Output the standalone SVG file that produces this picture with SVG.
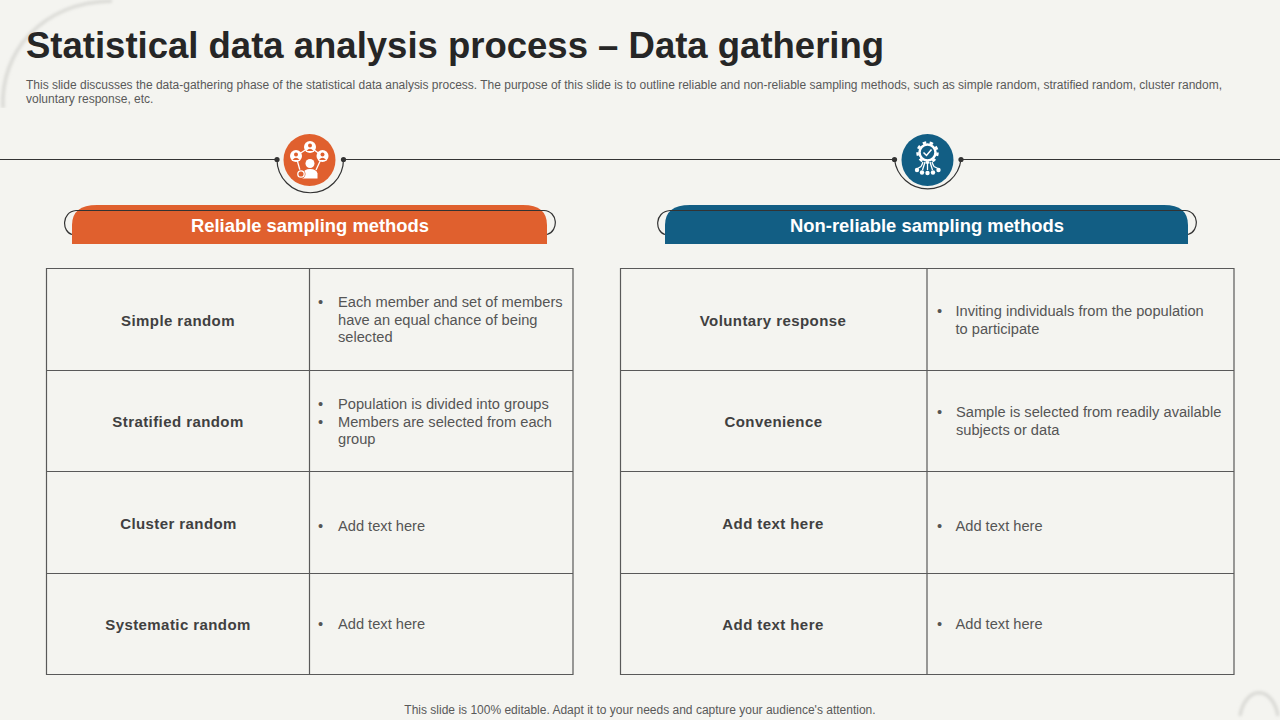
<svg xmlns="http://www.w3.org/2000/svg" width="1280" height="720" viewBox="0 0 1280 720">
<style>
text{font-family:"Liberation Sans",Arial,sans-serif}
.h{font-size:15px;font-weight:700;fill:#404040;text-anchor:middle;letter-spacing:.42px}
.b{font-size:14.65px;fill:#555}
.bh{font-size:18.4px;font-weight:700;fill:#fff;text-anchor:middle}
.g{fill:none;stroke:#595959;stroke-width:1.2}
.l{fill:none;stroke:#333;stroke-width:1.2}
.d{fill:#333}
.w{fill:#fff}
.ws{fill:none;stroke:#fff;stroke-width:1.3}
.o{fill:#e0602e}
.n{fill:#125e84}
</style>
<defs>
<filter id="sh" x="-30%" y="-30%" width="160%" height="160%"><feGaussianBlur stdDeviation="1.500"/></filter>
<clipPath id="cTL"><rect x="0" y="0" width="150" height="108"/></clipPath>
<clipPath id="cBR"><rect x="1230" y="680" width="50" height="40"/></clipPath>
</defs>
<rect width="1280" height="720" fill="#f4f4f0"/>
<g id="decor">
<g clip-path="url(#cTL)"><path d="M3 108C0 52 42 2 112 1" fill="none" stroke="#dadad6" stroke-width="3.500" filter="url(#sh)"/></g>
<path d="M4 108H142" stroke="#e0e0dc" stroke-width="1.600" filter="url(#sh)" fill="none"/>
<g clip-path="url(#cBR)"><path d="M1240 716A19.500 30 0 0 1 1278 716" fill="none" stroke="#dadad6" stroke-width="3.500" filter="url(#sh)"/></g>
</g>
<g id="title">
<text x="26" y="58" font-size="36.500" font-weight="700" fill="#262626">Statistical data analysis process – Data gathering</text>
<text x="26" y="89" font-size="12" fill="#595959" textLength="1196">This slide discusses the data-gathering phase of the statistical data analysis process. The purpose of this slide is to outline reliable and non-reliable sampling methods, such as simple random, stratified random, cluster random,</text>
<text x="26" y="103" font-size="12" fill="#595959">voluntary response, etc.</text>
</g>
<g id="connectors">
<path class="l" d="M0 159.500H277M343 159.500H894M961 159.500H1280"/>
<path class="l" d="M277 159.500A33 33 0 0 0 343.500 159.500"/>
<path class="l" d="M894.500 159.500A33.500 33.500 0 0 0 961 159.500"/>
<circle class="d" cx="277" cy="159.500" r="2.600"/><circle class="d" cx="343.500" cy="159.500" r="2.600"/>
<circle class="d" cx="894.500" cy="159.500" r="2.600"/><circle class="d" cx="961" cy="159.500" r="2.600"/>
</g>
<g id="icon-reliable">
<circle cx="309.500" cy="160" r="26" class="o"/>
<path class="ws" d="M310 147L296 156L301 174M310 147L322.500 156L316 170"/>
<circle cx="310" cy="147" r="6" class="w"/><circle cx="310" cy="145.500" r="2" class="o"/><path class="o" d="M306.500 151Q310 146.500 313.500 151Z"/>
<circle cx="296" cy="156" r="6" class="w"/><circle cx="296" cy="154.500" r="2" class="o"/><path class="o" d="M292.500 160Q296 155.500 299.500 160Z"/>
<circle cx="322.500" cy="156" r="6" class="w"/><circle cx="322.500" cy="154.500" r="2" class="o"/><path class="o" d="M319 160Q322.500 155.500 326 160Z"/>
<circle cx="310" cy="163.500" r="4.500" class="w"/>
<path class="w" d="M302.500 178.500V173.500Q304 169 310 169Q316.500 169 317.500 173.500V178.500Z"/>
<circle cx="301" cy="174" r="4.500" class="o"/>
<circle cx="301" cy="174" r="3.200" fill="none" stroke="#fff" stroke-width="1.300"/>
</g>
<g id="icon-nonreliable">
<circle cx="927.500" cy="160" r="26" class="n"/>
<circle cx="927.500" cy="152.500" r="8" fill="none" stroke="#fff" stroke-width="2.500"/>
<circle cx="927.500" cy="152.500" r="10" fill="none" stroke="#fff" stroke-width="2.500" stroke-dasharray="3.500 3.500"/>
<path d="M923.500 152.500L926.500 155.500L931.500 149.500" fill="none" stroke="#fff" stroke-width="1.500"/>
<path class="ws" d="M927.500 162V170M923 162Q922 165 921 166.500L917.500 168.500M932 162Q933 165 934 166.500L938 168.500M925 162L922.500 170M930 162L932.500 170"/>
<circle cx="917" cy="170" r="2.200" class="w"/><circle cx="922" cy="172.500" r="2.200" class="w"/><circle cx="927.500" cy="173" r="2.200" class="w"/><circle cx="933" cy="172.500" r="2.200" class="w"/><circle cx="938.500" cy="170" r="2.200" class="w"/>
</g>
<g id="banner-reliable">
<path d="M72 244V225Q72 205 97 205H523Q547 205 547 225V244Z" class="o"/>
<path class="l" d="M72 234.500C62 232 61 212 76 210.500H544C558 211 559 231 547 234.500"/>
<text class="bh" x="310" y="232">Reliable sampling methods</text>
</g>
<g id="banner-nonreliable">
<path d="M665 244V225Q665 205 690 205H1164Q1188 205 1188 225V244Z" class="n"/>
<path class="l" d="M665 234.500C655 232 654 212 670 210.500H1185C1199 211 1200 231 1188 234.500"/>
<text class="bh" x="927" y="232">Non-reliable sampling methods</text>
</g>
<g id="table-reliable">
<path class="g" d="M46.500 268.500H573V674.500H46.500ZM46.500 370.500H573M46.500 471.500H573M46.500 573.500H573M309.500 268.500V674.500"/>
<text class="h" x="178" y="326">Simple random</text>
<text class="h" x="178" y="427">Stratified random</text>
<text class="h" x="178.500" y="529">Cluster random</text>
<text class="h" x="178" y="630">Systematic random</text>
<g class="b">
<text x="318" y="307">•</text><text x="338" y="307">Each member and set of members</text><text x="338" y="325">have an equal chance of being</text><text x="338" y="342">selected</text>
<text x="318" y="409">•</text><text x="338" y="409">Population is divided into groups</text>
<text x="318" y="427">•</text><text x="338" y="427">Members are selected from each</text><text x="338" y="444">group</text>
<text x="318" y="531">•</text><text x="338" y="531">Add text here</text>
<text x="318" y="629">•</text><text x="338" y="629">Add text here</text>
</g>
</g>
<g id="table-nonreliable">
<path class="g" d="M620.500 268.500H1234V674.500H620.500ZM620.500 370.500H1234M620.500 471.500H1234M620.500 573.500H1234M927 268.500V674.500"/>
<text class="h" x="773" y="326">Voluntary response</text>
<text class="h" x="773.500" y="427">Convenience</text>
<text class="h" x="773" y="529">Add text here</text>
<text class="h" x="773" y="630">Add text here</text>
<g class="b">
<text x="937" y="316">•</text><text x="955.500" y="316">Inviting individuals from the population</text><text x="955.500" y="334">to participate</text>
<text x="937" y="417">•</text><text x="956" y="417">Sample is selected from readily available</text><text x="956" y="435">subjects or data</text>
<text x="937" y="531">•</text><text x="955.500" y="531">Add text here</text>
<text x="937" y="629">•</text><text x="955.500" y="629">Add text here</text>
</g>
</g>
<g id="footer"><text x="640" y="714" font-size="12" fill="#595959" text-anchor="middle">This slide is 100% editable. Adapt it to your needs and capture your audience's attention.</text></g>
</svg>
